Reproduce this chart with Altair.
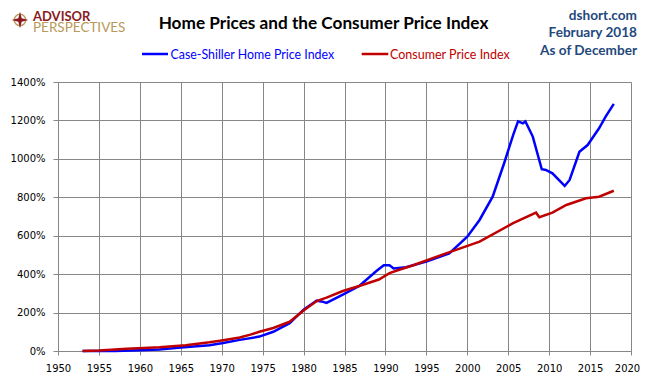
import altair as alt
import pandas as pd

# ---- data ----
cs_years = [1953, 1957, 1960, 1962.4, 1965, 1968.5, 1970, 1972.2, 1974.6, 1976.3, 1978.3,
            1980, 1981.6, 1982.2, 1982.8, 1984.8, 1986.8, 1988.9, 1989.8, 1990.5, 1991,
            1992.5, 1995, 1997.8, 2000, 2001.5, 2003.1, 2004.5, 2005.6, 2006.2, 2006.8,
            2007.1, 2008, 2009.1, 2009.6, 2010.4, 2011.9, 2012.5, 2013.7, 2014.7, 2016.1,
            2016.9, 2017.9]
cs_values = [0, 0, 4, 8, 18, 30, 40, 58, 75, 100, 145,
             215, 262, 258, 250, 293, 338, 416, 446, 446, 430,
             436, 465, 508, 595, 682, 803, 977, 1124, 1195, 1185,
             1195, 1116, 946, 942, 925, 859, 890, 1037, 1072, 1159,
             1220, 1286]

cpi_years = [1953, 1955, 1958.4, 1962.4, 1965.6, 1968.5, 1970, 1972.2, 1973.5, 1974.6,
             1976.3, 1978.3, 1980, 1981.6, 1982.8, 1984.8, 1986.8, 1989.2, 1990.5,
             1991.5, 1993.3, 1997.4, 2001.5, 2005.6, 2008.4, 2008.8, 2010.4, 2012.1,
             2014.5, 2016.1, 2017.9]
cpi_values = [0, 3, 12, 20, 30, 45, 55, 70, 85, 100,
              120, 152, 211, 260, 278, 312, 338, 372, 405,
              420, 445, 508, 569, 665, 720, 696, 720, 760,
              795, 803, 834]

series_names = ["Case-Shiller Home Price Index", "Consumer Price Index"]
series_colors = ["#0000FF", "#C00000"]
x_ticks = list(range(1950, 2021, 5))
y_ticks = list(range(0, 1401, 200))

df = pd.concat([
    pd.DataFrame({"year": cs_years, "value": cs_values, "series": series_names[0], "order": range(len(cs_years))}),
    pd.DataFrame({"year": cpi_years, "value": cpi_values, "series": series_names[1], "order": range(len(cpi_years))}),
])

W, H = 573, 269
GRID = "#878787"
FONT = "DejaVu Sans"

lines = alt.Chart(df).mark_line(strokeWidth=2.5, clip=False).encode(
    x=alt.X("year:Q", scale=alt.Scale(domain=[1950, 2020], nice=False, zero=False),
            axis=alt.Axis(values=x_ticks, format="d", title=None, grid=True, gridColor=GRID,
                          gridOpacity=1, domainColor=GRID, tickColor=GRID, tickSize=4,
                          labelFont=FONT, labelFontSize=10, labelColor="#000000",
                          labelPadding=8, labelFlush=False, labelOverlap=False,
                          labelOffset=alt.ExprRef("datum.value == 2020 ? -4 : 0"))),
    y=alt.Y("value:Q", scale=alt.Scale(domain=[0, 1400], nice=False),
            axis=alt.Axis(values=y_ticks, labelExpr="datum.value + '%'", title=None, grid=True,
                          gridColor=GRID, gridOpacity=1, domainColor=GRID, tickColor=GRID,
                          tickSize=5, labelFont=FONT, labelFontSize=10, labelColor="#000000",
                          labelPadding=8)),
    color=alt.Color("series:N", scale=alt.Scale(domain=series_names, range=series_colors), legend=None),
    order="order:Q",
)


def txt(s, x, y, size, color, weight="normal", align="left", font="Lato", baseline="alphabetic"):
    return alt.Chart(pd.DataFrame({"label": [s]})).mark_text(
        align=align, baseline=baseline, font=font, fontSize=size, fontWeight=weight, color=color
    ).encode(x=alt.value(x), y=alt.value(y), text="label:N")


def seg(x1, x2, y, color):
    return alt.Chart(pd.DataFrame({"a": [0]})).mark_rule(strokeWidth=2.5, color=color).encode(
        x=alt.value(x1), x2=alt.value(x2), y=alt.value(y))


title = txt("Home Prices and the Consumer Price Index", 265.5, -53, 17.2, "#000000", "bold", "center")
r1 = txt("dshort.com", 579, -62.5, 13.6, "#1F497D", "bold", "right")
r2 = txt("February 2018", 579, -45, 13.6, "#1F497D", "bold", "right")
r3 = txt("As of December", 579, -27, 13.6, "#1F497D", "bold", "right")

leg1_line = seg(84, 110, -28, series_colors[0])
leg1_txt = txt(series_names[0], 112.5, -27, 12.4, series_colors[0], baseline="middle")
leg2_line = seg(303.7, 330.3, -28, series_colors[1])
leg2_txt = txt(series_names[1], 332, -27, 12.5, series_colors[1], baseline="middle")

logo1 = txt("ADVISOR", -25, -61.5, 13, "#8B1A22", "bold")
logo2 = txt("PERSPECTIVES", -25, -50.5, 13.5, "#B8995A")
star_path = "M0,-1 L0.2,-0.2 L1,0 L0.2,0.2 L0,1 L-0.2,0.2 L-1,0 L-0.2,-0.2 Z"
logo_ring = alt.Chart(pd.DataFrame({"a": [0]})).mark_point(
    shape="circle", size=130, filled=False, color="#B8995A", strokeWidth=1.5, opacity=1
).encode(x=alt.value(-38), y=alt.value(-62))
logo_star = alt.Chart(pd.DataFrame({"a": [0]})).mark_point(
    shape=star_path, size=280, filled=True, color="#8B1A22", opacity=1
).encode(x=alt.value(-38), y=alt.value(-62))

chart = alt.layer(
    lines, title, r1, r2, r3, leg1_line, leg1_txt, leg2_line, leg2_txt,
    logo_ring, logo_star, logo1, logo2
).properties(
    width=W, height=H,
    autosize=alt.AutoSizeParams(type="none"),
    padding={"left": 50, "top": 74, "right": 9, "bottom": 26},
).configure_view(stroke=None).configure(background="#FFFFFF")

chart.save("out.html", embed_options={"renderer": "svg", "actions": False})
